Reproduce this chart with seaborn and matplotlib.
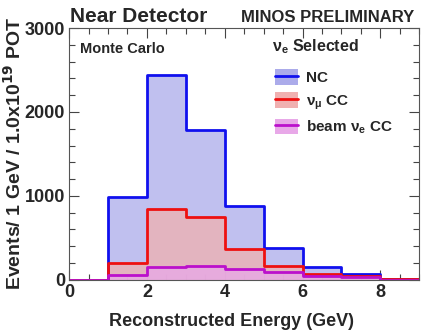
import numpy as np
import matplotlib
matplotlib.use("Agg")
import matplotlib.pyplot as plt
import seaborn as sns
from matplotlib.patches import Patch
from matplotlib.lines import Line2D
from matplotlib.ticker import MultipleLocator

# reconstructed energy bins (GeV)
bin_edges = [0, 1, 2, 3, 4, 5, 6, 7, 8, 9]
nc = [0, 990, 2440, 1780, 885, 380, 155, 65, 8]
numu_cc = [0, 195, 840, 745, 365, 165, 70, 45, 5]
beam_nue_cc = [0, 55, 155, 165, 130, 90, 48, 30, 4]

series_names = ["NC", r"$\nu_{\mu}$ CC", r"beam $\nu_{e}$ CC"]
line_colors = ["#1010ee", "#ee1010", "#bb10cc"]
fill_colors = ["#ababea", "#f0b0b0", "#e8a8e8"]

sns.set_style("ticks")
plt.rcParams["font.family"] = ["Liberation Sans", "DejaVu Sans"]
plt.rcParams["font.weight"] = "bold"
plt.rcParams["mathtext.default"] = "regular"

fig = plt.figure(figsize=(4.21, 3.30), dpi=100)
ax = fig.add_axes([0.164, 0.152, 0.832, 0.763])

centers = np.array(bin_edges[:-1]) + 0.5
for vals, lc, fc in zip([nc, numu_cc, beam_nue_cc], line_colors, fill_colors):
    sns.histplot(x=centers, weights=vals, bins=bin_edges, element="step",
                 fill=True, color=fc, alpha=0.75, linewidth=0, ax=ax)
for vals, lc in zip([nc, numu_cc, beam_nue_cc], line_colors):
    sns.histplot(x=centers, weights=vals, bins=bin_edges, element="step",
                 fill=False, color=lc, linewidth=2, ax=ax)

ax.set_xlim(0, 9)
ax.set_ylim(0, 3000)
ax.xaxis.set_major_locator(MultipleLocator(2))
ax.xaxis.set_minor_locator(MultipleLocator(0.5))
ax.yaxis.set_major_locator(MultipleLocator(1000))
ax.yaxis.set_minor_locator(MultipleLocator(200))
ax.tick_params(which="both", direction="in", top=True, right=True,
               labelsize=13, width=0.8, color="#444444", pad=3)
ax.tick_params(which="major", length=7)
ax.tick_params(which="minor", length=4)
for lab in ax.get_xticklabels() + ax.get_yticklabels():
    lab.set_fontweight("bold")
for s in ax.spines.values():
    s.set_color("#555555")
    s.set_linewidth(0.8)

ax.set_xlabel("Reconstructed Energy (GeV)", fontsize=13, fontweight="bold", labelpad=8)
ax.xaxis.set_label_coords(0.465, -0.13)
ax.set_ylabel(r"Events/ 1 GeV / 1.0x10$^{\mathbf{19}}$ POT", fontsize=14,
              fontweight="bold", labelpad=0)

fig.text(0.167, 0.932, "Near Detector", fontsize=15, fontweight="bold")
fig.text(0.985, 0.932, "MINOS PRELIMINARY", fontsize=12, fontweight="bold", ha="right")
ax.text(0.03, 0.945, "Monte Carlo", transform=ax.transAxes, fontsize=10.5,
        fontweight="bold", va="top")
ax.text(0.578, 0.925, r"$\nu_{e}$ Selected", transform=ax.transAxes, fontsize=11.5,
        fontweight="bold", va="center")

handles = [(Patch(facecolor=fc, edgecolor="none"), Line2D([], [], color=lc, lw=2))
           for lc, fc in zip(line_colors, fill_colors)]
leg = ax.legend(handles, series_names, loc="upper left",
                bbox_to_anchor=(0.548, 0.89), frameon=False, fontsize=11,
                handlelength=1.55, handleheight=1.2, labelspacing=0.45,
                handletextpad=0.5)
plt.setp(leg.get_texts(), fontweight="bold")

fig.savefig("out.png", dpi=100)
